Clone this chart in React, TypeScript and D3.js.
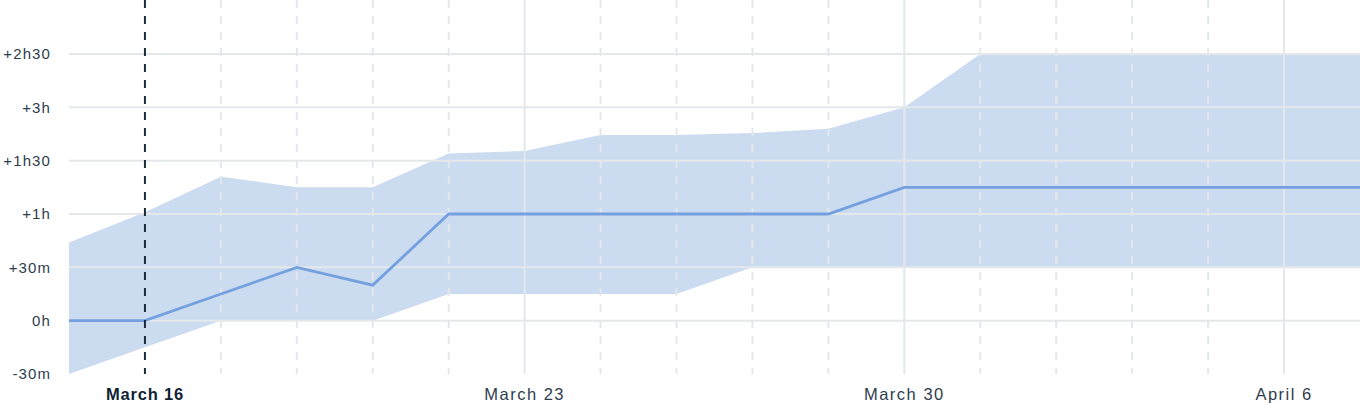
import React from "react";
import * as d3 from "d3";

// Business days shown on the x axis
const dates = [
  "2020-03-13", "2020-03-16", "2020-03-17", "2020-03-18", "2020-03-19", "2020-03-20",
  "2020-03-23", "2020-03-24", "2020-03-25", "2020-03-26", "2020-03-27",
  "2020-03-30", "2020-03-31", "2020-04-01", "2020-04-02", "2020-04-03",
  "2020-04-06", "2020-04-07",
];
// Delay in minutes
const median = [0, 0, 15, 30, 20, 60, 60, 60, 60, 60, 60, 75, 75, 75, 75, 75, 75, 75];
const upper = [44, 61, 81, 75, 75, 94, 95.5, 104.5, 104.5, 105.5, 108, 120, 150, 150, 150, 150, 150, 150];
const lower = [-30, -15, 0, 0, 0, 15, 15, 15, 15, 30, 30, 30, 30, 30, 30, 30, 30, 30];

const yTicks = [-30, 0, 30, 60, 90, 120, 150];
const yTickLabels = ["-30m", "0h", "+30m", "+1h", "+1h30", "+3h", "+2h30"];

const weekTicks = ["2020-03-16", "2020-03-23", "2020-03-30", "2020-04-06"];
const weekTickLabels = ["March 16", "March 23", "March 30", "April 6"];
const today = "2020-03-16";

const W = 1360;
const H = 404;
const margin = { left: 69, right: 0 };

export default function App() {
  const x = d3
    .scalePoint<string>()
    .domain(dates)
    .range([margin.left, W - margin.right]);
  const y = d3
    .scaleLinear()
    .domain([-30, 150])
    .range([374, 54]);

  const idx = d3.range(dates.length);
  const area = d3
    .area<number>()
    .x((i) => x(dates[i])!)
    .y0((i) => y(lower[i]))
    .y1((i) => y(upper[i]));
  const line = d3
    .line<number>()
    .x((i) => x(dates[i])!)
    .y((i) => y(median[i]));

  const gridColor = "#e4e8eb";
  const font = "'Liberation Sans', 'DejaVu Sans', sans-serif";

  return (
    <svg
      width={W}
      height={H}
      style={{ position: "absolute", left: 0, top: 0, display: "block" }}
    >
      <rect x={0} y={0} width={W} height={H} fill="#ffffff" />
      <path d={area(idx)!} fill="#cbdbf0" />
      {/* horizontal grid */}
      {yTicks
        .filter((t) => t !== -30)
        .map((t) => (
          <line
            key={"h" + t}
            x1={margin.left}
            x2={W}
            y1={y(t)}
            y2={y(t)}
            stroke={gridColor}
            strokeWidth={2}
          />
        ))}
      {/* vertical grid */}
      {dates.slice(1, dates.length - 1).map((d) => {
        if (d === today) return null;
        const isWeek = weekTicks.includes(d);
        return (
          <line
            key={"v" + d}
            x1={x(d)}
            x2={x(d)}
            y1={0}
            y2={374}
            stroke={gridColor}
            strokeWidth={2}
            strokeDasharray={isWeek ? undefined : "8,8"}
          />
        );
      })}
      <path d={line(idx)!} fill="none" stroke="#74a0e0" strokeWidth={2.8} />
      {/* today marker */}
      <line
        x1={x(today)}
        x2={x(today)}
        y1={0}
        y2={374}
        stroke="#1a2b3b"
        strokeWidth={2}
        strokeDasharray="8,8"
      />
      {/* y labels */}
      {yTicks.map((t, i) => (
        <text
          key={"yl" + t}
          x={51}
          y={y(t)}
          dy="0.35em"
          textAnchor="end"
          fontFamily={font}
          fontSize={15}
          letterSpacing={1.1}
          fill="#2e3d4d"
        >
          {yTickLabels[i]}
        </text>
      ))}
      {/* x labels */}
      {weekTicks.map((d, i) => (
        <text
          key={"xl" + d}
          x={x(d)}
          y={400}
          textAnchor="middle"
          fontFamily={font}
          fontSize={16.5}
          letterSpacing={d === today ? 0.8 : 1.5}
          fontWeight={d === today ? 700 : 400}
          fill={d === today ? "#0f2335" : "#2e3d4d"}
        >
          {weekTickLabels[i]}
        </text>
      ))}
    </svg>
  );
}
